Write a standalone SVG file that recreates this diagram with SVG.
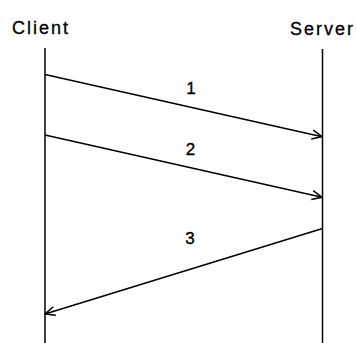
<svg xmlns="http://www.w3.org/2000/svg" width="356" height="343" viewBox="0 0 356 343">
  <style>
    .lbl { font-family: "Liberation Sans", Arial, sans-serif; font-size: 18px; fill: #000; stroke: #000; stroke-width: 0.3; letter-spacing: 2px; }
    .num { font-family: "Liberation Sans", Arial, sans-serif; font-size: 17px; fill: #000; stroke: #000; stroke-width: 0.35; text-anchor: middle; }
    .life { stroke: #000; stroke-width: 1.5; fill: none; }
    .msg { stroke: #000; stroke-width: 1.6; fill: none; marker-end: url(#open); }
  </style>
  <defs>
    <marker id="open" viewBox="0 0 12 12" refX="11" refY="6" markerWidth="12" markerHeight="12" markerUnits="userSpaceOnUse" orient="auto">
      <path d="M1,1.5 L11,6 L1,10.5" fill="none" stroke="#000" stroke-width="1.5"/>
    </marker>
  </defs>
  <rect width="356" height="343" fill="#fff"/>

  <g id="client">
    <text class="lbl" x="12" y="33.5">Client</text>
    <line class="life" x1="45" y1="48" x2="45" y2="343"/>
  </g>

  <g id="server">
    <text class="lbl" x="290" y="35">Server</text>
    <line class="life" x1="322.5" y1="49" x2="322.5" y2="343"/>
  </g>

  <g id="connectors">
    <line class="msg" x1="45" y1="74.5" x2="322" y2="136.7"/>
    <text class="num" x="191" y="94">1</text>
    <line class="msg" x1="45" y1="135" x2="322" y2="197.3"/>
    <text class="num" x="190.5" y="155">2</text>
    <line class="msg" x1="322.5" y1="228.5" x2="45" y2="314"/>
    <text class="num" x="190" y="244">3</text>
  </g>
</svg>
